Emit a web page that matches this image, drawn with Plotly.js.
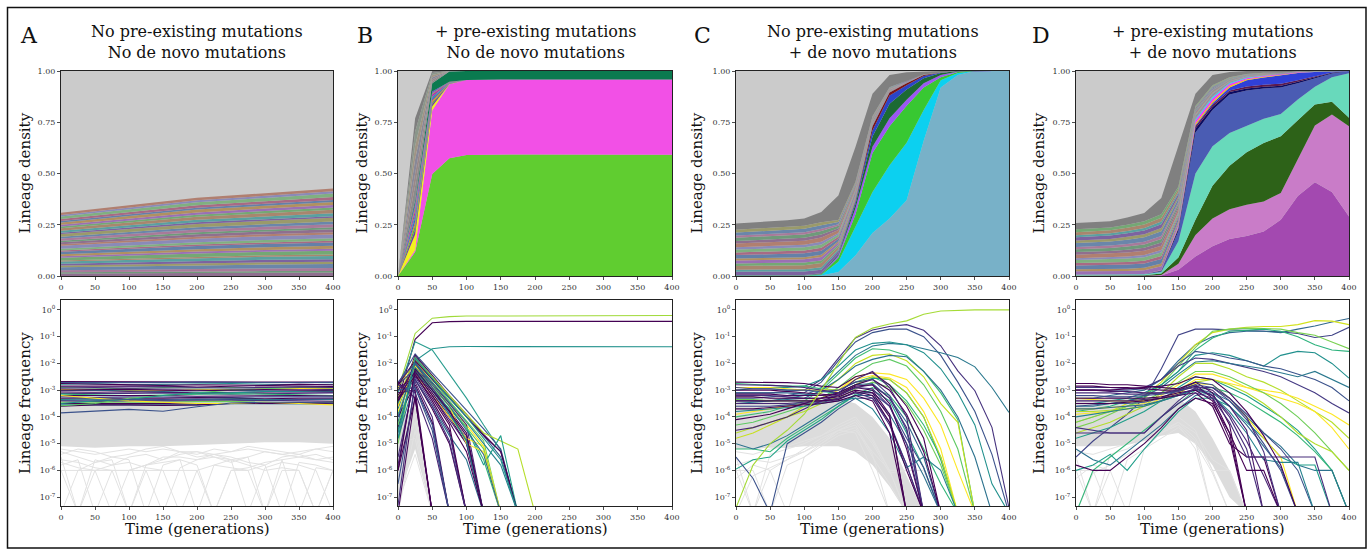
<!DOCTYPE html>
<html><head><meta charset="utf-8">
<script src="https://cdn.plot.ly/plotly-3.0.1.min.js"></script>
<style>html,body{margin:0;padding:0;background:#fff}#chart{width:1370px;height:549px}</style>
</head><body><div id="chart"></div>
<script>
// ---------------- time axes / ticks / labels ----------------
const T  = [0,25,50,75,100,125,150,175,200,225,250,275,300,325,350,375,400];
const T5 = [0,100,200,300,400];
const T9 = [0,50,100,150,200,250,300,350,400];
const TB = [0,25,50,75,100];
const TS = [0,50,100,125,150,175,200,225,250,275,300,350];
const timeTicks = [0,50,100,150,200,250,300,350,400];
const densityTicks = [0,0.25,0.5,0.75,1];
const densityTickText = ['0.00','0.25','0.50','0.75','1.00'];
const freqTicks = [1e-7,1e-6,1e-5,1e-4,1e-3,1e-2,1e-1,1];
const freqTickText = ['10<sup>-7</sup>','10<sup>-6</sup>','10<sup>-5</sup>','10<sup>-4</sup>','10<sup>-3</sup>','10<sup>-2</sup>','10<sup>-1</sup>','10<sup>0</sup>'];
const panelLetters = ['A','B','C','D'];
const panelTitles = ['No pre-existing mutations<br>No de novo mutations','+ pre-existing mutations<br>No de novo mutations','No pre-existing mutations<br>+ de novo mutations','+ pre-existing mutations<br>+ de novo mutations'];
const densityLabel = 'Lineage density';
const freqLabel = 'Lineage frequency';
const timeLabel = 'Time (generations)';

// ---------------- Panel A (top): lineage densities on T5 ----------------
const stripesA = [
[0.012,0.014,0.015,0.016,0.017],[0.006,0.007,0.007,0.008,0.008],[0.010,0.011,0.012,0.013,0.014],[0.015,0.016,0.018,0.019,0.020],
[0.008,0.009,0.010,0.011,0.011],[0.009,0.010,0.011,0.012,0.012],[0.011,0.012,0.014,0.015,0.015],[0.005,0.006,0.007,0.007,0.008],
[0.013,0.015,0.016,0.017,0.018],[0.007,0.008,0.009,0.009,0.010],[0.010,0.011,0.012,0.013,0.014],[0.012,0.013,0.015,0.016,0.016],
[0.006,0.007,0.008,0.008,0.009],[0.009,0.010,0.011,0.012,0.012],[0.014,0.016,0.017,0.018,0.019],[0.008,0.009,0.010,0.010,0.011],
[0.010,0.011,0.012,0.013,0.014],[0.007,0.008,0.009,0.009,0.010],[0.011,0.013,0.014,0.014,0.015],[0.009,0.010,0.011,0.012,0.013],
[0.013,0.014,0.016,0.017,0.018],[0.006,0.007,0.008,0.008,0.008],[0.010,0.011,0.012,0.013,0.014],[0.012,0.014,0.015,0.016,0.017],
[0.008,0.009,0.010,0.011,0.011],[0.009,0.010,0.011,0.012,0.012],[0.011,0.012,0.014,0.014,0.015],[0.007,0.008,0.009,0.009,0.010],
[0.010,0.011,0.012,0.013,0.014],[0.012,0.014,0.015,0.016,0.017],[0.008,0.009,0.010,0.010,0.011],[0.010,0.011,0.012,0.013,0.014]];

// ---------------- Panel B (top) ----------------
const greenB   = [0,0.117,0.498,0.575,0.59,0.592,0.593,0.593,0.593,0.593,0.592,0.592,0.592,0.592,0.592,0.592,0.592];
const pinkB    = [0,0.01,0.31,0.36,0.366,0.366,0.365,0.365,0.365,0.365,0.366,0.366,0.366,0.366,0.366,0.366,0.366];
const yellowB  = [0,0.075,0.02,0.002,0,0,0,0,0,0,0,0,0,0,0,0,0];
const dkGreenB = [0,0.015,0.04,0.05,0.044,0.042,0.042,0.042,0.042,0.042,0.042,0.042,0.042,0.042,0.042,0.042,0.042];
const smallB = [
[0,0.025,0.012,0.002,0],[0,0.020,0.008,0.001,0],[0,0.018,0.009,0.001,0],[0,0.020,0.010,0.002,0],
[0,0.015,0.007,0.001,0],[0,0.022,0.012,0.002,0],[0,0.015,0.006,0.001,0],[0,0.018,0.008,0.001,0]];
const greyStripesB = [
[0,0.07,0.01,0.001,0],[0,0.06,0.01,0,0],[0,0.07,0.01,0.001,0],[0,0.065,0.01,0,0],[0,0.07,0.01,0.001,0],[0,0.065,0.01,0,0]];

// ---------------- Panel C (top) ----------------
const steelC   = [0,0,0,0,0,0.002,0.02,0.10,0.21,0.28,0.37,0.66,0.92,0.98,1.0,1.0,1.0];
const cyanC    = [0.001,0.001,0.001,0.001,0.001,0.003,0.05,0.14,0.20,0.26,0.28,0.15,0.035,0.01,0,0,0];
const greenC   = [0.002,0.002,0.002,0.002,0.002,0.003,0.02,0.06,0.19,0.19,0.18,0.11,0.015,0.005,0,0,0];
const purpleC  = [0.001,0.001,0.001,0.001,0.001,0.002,0.01,0.03,0.03,0.04,0.03,0.02,0.01,0.003,0,0,0];
const dkGreenC = [0.001,0.001,0.001,0.001,0.001,0.002,0.005,0.02,0.05,0.07,0.05,0.025,0.01,0.002,0,0,0];
const blueC    = [0,0,0,0,0,0.001,0.003,0.01,0.03,0.04,0.02,0.01,0.003,0,0,0,0];
const maroonC  = [0,0,0,0,0,0,0.002,0.005,0.02,0.015,0.01,0.005,0,0,0,0,0];
const stripesC = [
[0.016,0.016,0.017,0.018,0.012,0.007,0.004,0.002,0.001,0,0,0],[0.010,0.011,0.011,0.012,0.008,0.004,0.002,0.001,0.001,0,0,0],
[0.018,0.019,0.020,0.020,0.013,0.008,0.004,0.002,0.001,0.001,0,0],[0.012,0.012,0.013,0.013,0.009,0.005,0.003,0.001,0.001,0,0,0],
[0.015,0.016,0.016,0.017,0.011,0.006,0.003,0.002,0.001,0,0,0],[0.009,0.010,0.010,0.011,0.007,0.004,0.002,0.001,0,0,0,0],
[0.017,0.018,0.019,0.019,0.012,0.007,0.004,0.002,0.001,0.001,0,0],[0.013,0.013,0.014,0.015,0.010,0.006,0.003,0.002,0.001,0,0,0],
[0.014,0.015,0.015,0.016,0.010,0.006,0.003,0.002,0.001,0,0,0],[0.011,0.012,0.012,0.013,0.008,0.005,0.002,0.001,0.001,0,0,0],
[0.019,0.019,0.020,0.021,0.014,0.008,0.004,0.002,0.001,0.001,0,0],[0.012,0.013,0.014,0.014,0.009,0.005,0.003,0.001,0.001,0,0,0],
[0.016,0.017,0.017,0.018,0.012,0.007,0.004,0.002,0.001,0,0,0],[0.010,0.010,0.011,0.011,0.007,0.004,0.002,0.001,0,0,0,0],
[0.015,0.015,0.016,0.016,0.011,0.006,0.003,0.002,0.001,0,0,0],[0.014,0.014,0.015,0.015,0.010,0.006,0.003,0.002,0.001,0,0,0]];
const greyBandC = [0.03,0.03,0.035,0.05,0.12,0.17,0.11,0.06,0.04,0.015,0.006,0];

// ---------------- Panel D (top) ----------------
const purpleD  = [0,0,0,0,0,0.002,0.03,0.095,0.145,0.18,0.195,0.217,0.274,0.39,0.457,0.41,0.29];
const orchidD  = [0.001,0.001,0.001,0.001,0.001,0.003,0.03,0.105,0.135,0.146,0.152,0.147,0.131,0.18,0.277,0.378,0.44];
const dkGreenD = [0.002,0.002,0.002,0.002,0.003,0.007,0.03,0.074,0.16,0.212,0.257,0.285,0.277,0.19,0.103,0.062,0.042];
const aquaD    = [0.003,0.003,0.003,0.003,0.004,0.008,0.08,0.226,0.193,0.16,0.13,0.118,0.108,0.101,0.086,0.12,0.217];
const blueD    = [0.001,0.001,0.001,0.001,0.002,0.005,0.05,0.20,0.177,0.187,0.171,0.148,0.13,0.079,0.042,0.018,0.011];
const navyD    = [0,0,0,0,0,0.002,0.01,0.02,0.015,0.012,0.01,0.008,0.008,0.007,0.005,0.003,0];
const maroonD  = [0,0,0,0,0,0,0.003,0.01,0.01,0.008,0.01,0.01,0.01,0.008,0.005,0.002,0];
const royalD   = [0,0,0,0,0,0,0.002,0.005,0.008,0.015,0.03,0.035,0.04,0.035,0.02,0.005,0];
const yellowD  = [0,0,0,0,0,0.001,0.005,0.01,0.01,0.008,0.005,0.004,0.003,0.002,0,0,0];
const magentaD = [0,0,0,0,0,0.001,0.005,0.012,0.012,0.008,0.005,0.004,0.003,0.002,0,0,0];
const cyanD    = [0,0,0,0,0,0,0.002,0.008,0.008,0.005,0.003,0.002,0,0,0,0,0];
const stripesD = [
[0.016,0.016,0.018,0.019,0.013,0.005,0.004,0.002,0.001,0.001,0.001,0],[0.010,0.011,0.012,0.013,0.009,0.003,0.003,0.001,0.001,0.001,0,0],
[0.018,0.019,0.021,0.022,0.015,0.005,0.005,0.002,0.001,0.001,0.001,0],[0.012,0.012,0.014,0.014,0.010,0.003,0.003,0.002,0.001,0.001,0,0],
[0.015,0.016,0.017,0.018,0.012,0.004,0.004,0.002,0.001,0.001,0.001,0],[0.009,0.010,0.011,0.012,0.008,0.003,0.002,0.001,0.001,0,0,0],
[0.017,0.018,0.020,0.021,0.014,0.005,0.004,0.002,0.002,0.001,0.001,0],[0.013,0.013,0.015,0.016,0.011,0.004,0.003,0.002,0.001,0.001,0,0],
[0.014,0.015,0.016,0.017,0.012,0.004,0.004,0.002,0.001,0.001,0.001,0],[0.011,0.012,0.013,0.014,0.010,0.003,0.003,0.001,0.001,0,0,0],
[0.019,0.019,0.022,0.023,0.016,0.005,0.005,0.002,0.001,0.001,0.001,0],[0.012,0.013,0.015,0.016,0.011,0.004,0.003,0.002,0.001,0.001,0,0],
[0.016,0.017,0.018,0.019,0.013,0.005,0.004,0.002,0.001,0.001,0.001,0],[0.010,0.010,0.012,0.013,0.009,0.003,0.003,0.002,0.001,0,0,0],
[0.015,0.015,0.017,0.018,0.013,0.004,0.004,0.002,0.001,0.001,0.001,0],[0.014,0.014,0.016,0.017,0.012,0.004,0.003,0.002,0.001,0.001,0,0]];
const greyBandD = [0.03,0.03,0.04,0.08,0.2,0.06,0.05,0.025,0.015,0.01,0.008,0.003];

// ---------------- Bottom panels: log10 lineage frequency ----------------
// Panel A (T9)
const linesA = [
[-2.68,-2.68,-2.7,-2.69,-2.68,-2.7,-2.7,-2.69,-2.7],[-2.72,-2.73,-2.72,-2.72,-2.7,-2.71,-2.72,-2.72,-2.71],
[-2.78,-2.76,-2.8,-2.78,-2.76,-2.75,-2.78,-2.8,-2.78],[-2.85,-2.85,-2.83,-2.85,-2.88,-2.85,-2.83,-2.85,-2.86],
[-2.9,-2.92,-2.95,-2.9,-2.92,-2.9,-2.9,-2.92,-2.95],[-2.95,-2.97,-2.95,-2.96,-2.95,-2.98,-2.96,-2.95,-2.97],
[-2.98,-3.0,-3.0,-3.02,-3.0,-2.98,-2.95,-2.93,-2.92],[-3.02,-3.0,-3.03,-3.05,-3.02,-3.0,-3.02,-3.03,-3.05],
[-3.07,-3.08,-3.06,-3.08,-3.1,-3.08,-3.07,-3.06,-3.08],[-3.12,-3.13,-3.12,-3.1,-3.12,-3.15,-3.13,-3.12,-3.1],
[-3.15,-3.17,-3.2,-3.18,-3.15,-3.13,-3.15,-3.18,-3.2],[-3.2,-3.2,-3.22,-3.2,-3.23,-3.22,-3.2,-3.2,-3.22],
[-3.25,-3.27,-3.25,-3.26,-3.25,-3.27,-3.25,-3.24,-3.25],[-3.3,-3.3,-3.32,-3.3,-3.28,-3.3,-3.32,-3.3,-3.3],
[-3.35,-3.33,-3.35,-3.38,-3.35,-3.33,-3.35,-3.36,-3.35],[-3.4,-3.42,-3.4,-3.4,-3.42,-3.4,-3.38,-3.4,-3.42],
[-3.45,-3.45,-3.47,-3.45,-3.43,-3.42,-3.45,-3.47,-3.45],[-3.5,-3.5,-3.48,-3.5,-3.52,-3.5,-3.48,-3.47,-3.48],
[-3.55,-3.55,-3.53,-3.55,-3.55,-3.5,-3.5,-3.5,-3.52],[-3.6,-3.55,-3.55,-3.57,-3.55,-3.5,-3.5,-3.5,-3.5],
[-3.2,-3.3,-3.4,-3.45,-3.5,-3.5,-3.45,-3.5,-3.55],[-3.58,-3.5,-3.3,-3.2,-3.1,-3.0,-2.95,-2.9,-2.9],
[-3.5,-3.4,-3.35,-3.2,-3.1,-3.1,-3.05,-3.05,-3.0],[-2.75,-2.78,-2.8,-2.82,-2.8,-2.8,-2.82,-2.78,-2.8],
[-2.88,-2.9,-2.88,-2.87,-2.9,-2.92,-2.9,-2.88,-2.9],[-3.0,-2.98,-2.97,-3.0,-3.02,-3.0,-2.98,-3.0,-3.0],
[-3.38,-3.36,-3.36,-3.35,-3.33,-3.35,-3.38,-3.35,-3.33],[-3.85,-3.79,-3.72,-3.79,-3.62,-3.48,-3.45,-3.45,-3.48]];
const greyBandALo = [-5.1,-5.15,-5.1,-5.1,-5.05,-5.0,-4.95,-4.95,-5.0];
const greyBandAHi = [-3.3,-3.3,-3.3,-3.3,-3.3,-3.3,-3.3,-3.3,-3.3];
const greyLinesA = [
[-5.5,-7.6,-5.6,-5.8,-5.5,-5.4,-5.6,-5.3,-5.5,-5.4,-5.6,-5.5,-5.3,-5.4,-5.5,-5.6,-5.7],
[-6.0,-6.0,-6.0,-7.6,-6.0,-5.8,-5.5,-5.5,-5.6,-5.4,-5.5,-5.7,-5.8,-5.5,-5.4,-5.6,-5.5],
[-5.8,-5.6,-7.6,-6.0,-6.0,-6.0,-7.6,-5.9,-5.6,-5.5,-5.6,-5.8,-6.0,-5.9,-6.0,-7.6,-6.0],
[-5.3,-5.5,-5.7,-5.6,-7.6,-5.8,-5.6,-5.4,-5.3,-5.5,-5.7,-5.5,-7.6,-5.6,-5.5,-5.4,-5.6],
[-7.6,-6.0,-5.7,-5.5,-5.6,-7.6,-5.8,-5.6,-5.8,-7.6,-6.0,-5.9,-5.7,-5.6,-7.6,-5.9,-6.0],
[-5.6,-5.7,-5.9,-6.0,-6.0,-5.8,-5.7,-5.6,-7.6,-5.8,-5.6,-7.6,-5.9,-5.7,-5.8,-6.0,-7.6],
[-5.2,-5.3,-5.4,-5.3,-5.2,-5.3,-5.2,-5.3,-5.3,-5.4,-5.3,-5.2,-5.3,-5.4,-5.3,-5.2,-5.3],
[-6.0,-7.6,-6.0,-6.0,-7.6,-6.0,-6.0,-6.0,-6.0,-7.6,-6.0,-6.0,-7.6,-6.0,-6.0,-7.6,-6.0],
[-5.4,-5.2,-5.3,-5.5,-5.4,-5.2,-5.1,-5.3,-5.4,-5.2,-5.3,-5.1,-5.2,-5.3,-5.4,-5.2,-5.1],
[-5.7,-5.9,-6.0,-5.8,-5.7,-5.9,-6.0,-7.6,-6.0,-5.8,-5.9,-6.0,-5.8,-7.6,-5.7,-5.8,-6.0]];

// Panel B (T)
const linesB = [
[-3.0,-0.88,-0.31,-0.25,-0.23,-0.23,-0.22,-0.22,-0.22,-0.22,-0.22,-0.22,-0.22,-0.22,-0.22,-0.22,-0.21],
[-3.4,-1.1,-0.48,-0.44,-0.43,-0.43,-0.43,-0.43,-0.43,-0.43,-0.43,-0.43,-0.43,-0.43,-0.43,-0.43,-0.43],
[-3.7,-1.9,-1.45,-1.38,-1.37,-1.37,-1.37,-1.37,-1.37,-1.37,-1.37,-1.37,-1.38,-1.38,-1.38,-1.38,-1.38],
[-3.1,-1.19,-1.5,-2.4,-3.3,-4.3,-5.25,-7.6],
[-2.75,-1.65,-2.35,-3.05,-3.75,-4.45,-5.2,-7.6],[-3.5,-1.7,-2.45,-3.2,-3.9,-4.65,-5.3,-7.6],
[-4.2,-1.75,-2.5,-3.25,-4.0,-4.7,-5.5,-7.6],[-3.3,-1.8,-2.5,-3.2,-3.9,-4.6,-4.9,-5.2,-7.6],
[-5.0,-1.85,-2.6,-3.4,-4.15,-4.9,-7.6],[-2.9,-1.9,-2.7,-3.5,-4.3,-5.1,-7.6],
[-3.6,-1.95,-2.75,-3.5,-4.3,-7.6],[-4.6,-2.0,-2.7,-3.45,-4.2,-5.0,-5.8,-7.6],
[-3.9,-2.05,-2.8,-3.6,-4.4,-5.6,-7.6],[-3.2,-2.1,-2.9,-3.75,-4.6,-7.6],
[-2.8,-2.2,-3.0,-3.9,-4.8,-7.6],[-4.4,-2.25,-3.1,-4.0,-5.0,-7.6],
[-3.5,-2.3,-3.0,-3.7,-4.4,-5.8,-4.7,-7.6],[-3.8,-2.4,-3.2,-4.0,-4.8,-5.1,-7.6],
[-3.0,-2.4,-3.4,-4.5,-7.6],[-5.5,-2.5,-3.5,-4.6,-7.6],[-3.3,-2.6,-3.7,-5.0,-7.6],
[-2.9,-2.7,-4.0,-7.6],[-4.0,-2.8,-4.2,-7.6],[-6.5,-2.9,-4.5,-7.6],[-3.1,-3.0,-7.6],
[-7.6,-3.2,-7.6],[-6.0,-3.3,-7.6],[-4.8,-2.6,-3.6,-4.7,-5.6,-7.6],[-4.3,-2.2,-2.9,-3.6,-4.4,-5.2,-7.6],
[-2.8,-1.9,-2.6,-3.3,-4.0,-4.7,-5.3,-7.6],[-5.8,-2.35,-3.2,-4.1,-5.0,-7.6],[-3.6,-2.1,-2.8,-3.6,-5.0,-5.3,-7.6],
[-2.7,-2.0,-2.9,-3.8,-4.9,-7.6],[-4.5,-2.15,-3.0,-3.9,-4.9,-7.6],[-3.4,-2.45,-3.3,-4.3,-7.6],
[-2.7,-3.3,-7.6],[-2.8,-3.1,-4.8,-7.6],[-3.0,-2.9,-4.3,-7.6],[-3.3,-2.3,-3.2,-4.2,-5.3,-7.6],
[-4.0,-2.0,-2.8,-3.6,-4.5,-5.4,-7.6],[-4.8,-1.8,-2.55,-3.3,-4.0,-4.8,-5.6,-7.6],[-6.0,-2.2,-3.0,-3.8,-4.7,-7.6],
[-7.3,-2.6,-3.6,-4.9,-7.6]];
const greyBandBLo = [-7.0,-5.2,-7.6];
const greyBandBHi = [-4.2,-3.5,-7.6];
const greyLinesB = [[-6.0,-4.2,-7.6],[-7.6,-4.5,-7.6],[-5.0,-4.8,-7.6],[-6.5,-3.9,-7.6],[-7.2,-5.4,-7.6]];

// Panel C (T)
const linesC = [
[-3.1,-3.1,-3.1,-3.05,-3.0,-2.6,-1.8,-1.05,-0.75,-0.62,-0.55,-0.76,-1.34,-2.28,-3.02,-4.39,-7.4],
[-3.3,-3.3,-3.25,-3.2,-3.1,-2.7,-1.9,-1.2,-0.85,-0.72,-0.72,-1.0,-1.7,-2.7,-3.8,-5.4,-7.6],
[-3.5,-3.45,-3.4,-3.3,-3.2,-2.9,-2.3,-1.7,-1.35,-1.25,-1.3,-1.45,-1.6,-1.78,-2.13,-2.9,-3.83],
[-2.9,-2.9,-2.9,-2.9,-2.85,-2.6,-2.1,-1.5,-1.25,-1.2,-1.3,-1.6,-2.2,-3.1,-4.3,-6.5,-7.6],
[-4.0,-3.9,-3.8,-3.6,-3.4,-3.0,-2.4,-1.8,-1.45,-1.5,-1.7,-2.3,-3.1,-4.1,-7.6],
[-4.8,-4.6,-4.3,-4.0,-3.6,-3.1,-2.6,-2.0,-1.7,-1.65,-1.9,-2.5,-3.5,-4.2,-7.6],
[-3.4,-3.4,-3.4,-3.35,-3.3,-3.0,-2.6,-2.1,-1.85,-1.7,-1.75,-2.3,-3.0,-4.0,-5.5,-7.6],
[-4.3,-4.2,-4.0,-3.8,-3.6,-3.3,-2.9,-2.4,-2.0,-1.85,-2.1,-2.8,-3.8,-5.2,-7.6],
[-3.9,-3.8,-3.7,-3.6,-3.5,-3.3,-3.0,-2.5,-2.35,-2.4,-2.6,-3.3,-4.3,-6.0,-7.6],
[-2.75,-2.78,-2.8,-2.85,-2.85,-2.95,-3.0,-2.7,-2.5,-2.8,-3.4,-4.3,-5.5,-7.6],
[-3.0,-2.95,-2.95,-3.0,-3.0,-3.05,-3.1,-2.8,-2.55,-2.6,-3.1,-4.0,-5.6,-7.6],
[-3.35,-3.35,-3.4,-3.4,-3.4,-3.4,-3.3,-2.95,-2.7,-2.9,-3.5,-4.5,-5.8,-7.6],
[-2.9,-2.9,-2.9,-2.95,-3.0,-3.0,-3.0,-2.6,-2.45,-2.55,-2.9,-3.8,-5.2,-7.6],
[-4.6,-4.4,-4.2,-4.0,-3.8,-3.5,-3.2,-2.8,-2.5,-2.6,-3.1,-4.0,-5.5,-7.6],
[-5.2,-5.2,-5.3,-4.8,-4.4,-4.0,-3.6,-3.15,-2.9,-3.2,-4.0,-5.2,-6.5,-7.6],
[-5.95,-5.6,-5.5,-4.9,-4.5,-4.1,-3.6,-3.2,-3.0,-3.4,-4.6,-5.9,-7.6],
[-5.5,-6.3,-7.6,-5.0,-4.6,-4.2,-3.7,-3.3,-3.3,-4.2,-5.8,-7.6],
[-5.0,-5.2,-5.0,-4.7,-4.3,-3.9,-3.5,-3.2,-3.2,-3.9,-5.0,-6.2,-7.6],
[-3.8,-3.75,-3.7,-3.65,-3.6,-3.5,-3.4,-3.3,-3.7,-4.6,-5.9,-5.5,-6.0,-7.6],
[-3.6,-3.6,-3.6,-3.55,-3.5,-3.45,-3.35,-3.1,-3.1,-3.6,-4.8,-5.9,-7.6],
[-3.1,-3.1,-3.1,-3.1,-3.15,-3.2,-3.1,-2.8,-2.75,-3.3,-4.2,-5.5,-7.6],
[-4.1,-4.0,-3.9,-3.7,-3.5,-3.3,-3.1,-2.8,-2.6,-3.0,-3.9,-5.3,-7.6],
[-4.5,-4.4,-4.2,-4.0,-3.7,-3.4,-3.2,-2.9,-2.8,-3.3,-4.4,-7.6],
[-2.7,-2.7,-2.7,-2.72,-2.75,-2.85,-2.9,-2.5,-2.35,-2.8,-3.6,-4.8,-7.6],
[-2.8,-2.8,-2.82,-2.85,-2.9,-3.0,-3.1,-2.6,-2.3,-2.9,-4.0,-7.6],
[-2.9,-2.95,-2.95,-3.0,-3.0,-3.05,-3.0,-2.7,-2.6,-3.2,-4.5,-7.6],
[-3.0,-3.0,-3.0,-3.05,-3.1,-3.15,-3.2,-2.9,-3.0,-3.9,-7.6],
[-3.2,-3.2,-3.2,-3.25,-3.3,-3.3,-3.2,-2.9,-2.95,-3.6,-5.0,-7.6],
[-3.25,-3.25,-3.3,-3.3,-3.3,-3.3,-3.25,-3.0,-3.1,-4.0,-7.6],
[-3.5,-3.5,-3.5,-3.5,-3.45,-3.4,-3.3,-3.1,-3.3,-4.3,-5.8,-7.6],
[-3.7,-3.7,-3.65,-3.6,-3.55,-3.5,-3.4,-3.2,-3.4,-4.6,-7.6],
[-3.4,-3.4,-3.4,-3.4,-3.4,-3.4,-3.35,-3.05,-3.2,-4.2,-6.0,-7.6],
[-3.15,-3.15,-3.15,-3.2,-3.2,-3.2,-3.15,-2.85,-2.8,-3.5,-5.2,-7.6],
[-7.4,-5.8,-5.0,-4.5,-3.9,-3.0,-2.0,-1.03,-0.68,-0.53,-0.41,-0.16,-0.04,-0.01,0,0,0]];
const greyBandCLo = [-5.2,-5.2,-5.15,-5.15,-5.1,-5.1,-5.1,-5.3,-5.8,-6.6,-7.6,-7.6];
const greyBandCHi = [-3.2,-3.2,-3.2,-3.2,-3.25,-3.3,-3.3,-3.5,-4.0,-4.8,-6.2,-7.6];
const greyLinesC = [
[-5.5,-7.6,-5.4,-5.2,-5.0,-4.7,-4.3,-4.0,-4.8,-6.0,-7.6],[-6.0,-6.0,-7.6,-5.8,-5.5,-5.0,-4.5,-4.3,-5.4,-7.6],
[-7.6,-6.2,-5.9,-5.6,-5.3,-4.9,-4.5,-4.2,-5.0,-6.1,-6.0,-7.6],[-6.3,-5.8,-6.0,-7.6,-5.5,-5.1,-4.7,-4.5,-5.3,-6.0,-7.6],
[-5.3,-5.4,-5.2,-5.1,-4.9,-4.7,-4.4,-4.1,-4.9,-6.0,-6.0,-6.0,-7.6],[-6.0,-7.6,-6.0,-5.6,-5.2,-4.8,-4.5,-4.6,-6.0,-7.6],
[-5.8,-5.6,-5.7,-5.5,-5.3,-5.0,-4.6,-4.4,-5.5,-6.5,-7.6]];

// Panel D (T)
const linesD = [
[-5.5,-4.9,-4.4,-3.9,-3.3,-2.2,-0.94,-0.72,-0.72,-0.75,-0.78,-0.8,-0.82,-0.88,-1.03,-0.95,-0.65],
[-3.3,-3.3,-3.2,-3.1,-3.0,-2.6,-1.9,-1.3,-1.0,-0.85,-0.8,-0.8,-0.85,-0.72,-0.6,-0.45,-0.32],
[-4.2,-4.0,-3.8,-3.5,-3.2,-2.7,-2.0,-1.3,-0.85,-0.72,-0.65,-0.62,-0.62,-0.55,-0.4,-0.42,-0.55],
[-4.4,-4.2,-3.9,-3.6,-3.3,-2.8,-2.1,-1.4,-0.8,-0.72,-0.68,-0.7,-0.72,-0.85,-0.95,-1.2,-1.45],
[-3.8,-3.7,-3.6,-3.4,-3.2,-2.8,-2.3,-1.5,-1.05,-0.8,-0.75,-0.72,-0.8,-1.0,-1.3,-1.5,-1.55],
[-3.5,-3.5,-3.4,-3.3,-3.1,-2.8,-2.3,-1.7,-1.6,-1.7,-1.9,-2.1,-1.7,-1.55,-1.6,-2.0,-2.55],
[-3.0,-3.0,-3.0,-3.0,-2.95,-2.6,-2.0,-1.55,-1.65,-1.8,-1.9,-2.1,-2.2,-2.4,-2.6,-2.9,-3.4],
[-2.9,-2.9,-2.9,-2.95,-2.9,-2.6,-2.1,-1.8,-1.85,-2.0,-2.15,-2.3,-2.5,-2.8,-3.1,-3.5,-3.85],
[-3.6,-3.6,-3.5,-3.4,-3.25,-2.9,-2.4,-1.95,-1.9,-2.0,-2.1,-2.2,-2.35,-2.5,-2.3,-2.6,-2.9],
[-4.6,-4.4,-4.2,-3.9,-3.6,-3.1,-2.5,-2.0,-2.0,-2.2,-2.5,-2.7,-3.0,-3.4,-3.8,-4.2,-4.8],
[-3.7,-3.7,-3.65,-3.6,-3.5,-3.2,-2.8,-2.4,-2.4,-2.6,-2.9,-3.1,-3.3,-3.5,-3.8,-4.4,-5.2],
[-3.9,-3.85,-3.8,-3.7,-3.6,-3.3,-3.0,-2.6,-2.6,-2.75,-2.9,-3.0,-3.1,-3.3,-3.6,-3.9,-4.3],
[-4.2,-4.0,-3.8,-3.6,-3.4,-3.1,-2.7,-2.3,-2.3,-2.5,-2.8,-3.1,-3.5,-4.0,-4.6,-5.3,-6.0],
[-4.8,-4.6,-4.4,-4.1,-3.8,-3.4,-2.9,-2.5,-2.6,-2.9,-3.2,-3.6,-4.0,-4.5,-5.2,-6.0,-7.6],
[-3.8,-3.8,-3.75,-3.7,-3.6,-3.4,-3.15,-2.7,-2.6,-2.8,-3.1,-3.5,-4.0,-4.6,-5.0,-5.3,-6.0],
[-7.6,-6.0,-5.5,-5.0,-4.5,-4.0,-3.5,-3.0,-2.9,-3.1,-3.4,-3.8,-4.2,-4.7,-5.3,-6.0,-7.6],
[-5.2,-5.6,-5.8,-5.3,-4.8,-4.3,-3.7,-3.2,-3.1,-3.4,-4.0,-4.6,-5.1,-5.8,-6.0,-6.0,-7.6],
[-6.0,-5.8,-5.4,-6.0,-5.2,-4.5,-3.8,-3.3,-3.3,-3.6,-4.2,-4.8,-5.5,-5.8,-5.8,-7.6],
[-3.3,-3.35,-3.4,-3.4,-3.4,-3.3,-3.1,-2.75,-2.8,-3.3,-4.0,-4.8,-5.5,-7.6],
[-3.6,-3.55,-3.5,-3.5,-3.45,-3.3,-3.0,-2.7,-2.8,-3.3,-3.9,-4.6,-5.2,-6.0,-7.6],
[-3.7,-3.7,-3.65,-3.6,-3.55,-3.4,-3.2,-2.95,-3.1,-3.6,-4.3,-5.1,-5.9,-7.6],
[-4.0,-3.9,-3.8,-3.7,-3.6,-3.4,-3.2,-3.0,-3.2,-3.8,-4.6,-5.6,-5.7,-5.7,-7.6],
[-2.75,-2.75,-2.8,-2.8,-2.85,-2.9,-2.95,-2.7,-3.1,-4.3,-7.6],
[-2.85,-2.85,-2.9,-2.9,-2.95,-3.0,-3.0,-2.8,-3.3,-4.6,-7.6],
[-3.0,-3.0,-3.05,-3.05,-3.1,-3.1,-3.05,-2.85,-3.0,-3.6,-4.5,-7.6],
[-3.1,-3.1,-3.1,-3.15,-3.15,-3.1,-3.0,-2.9,-3.2,-4.0,-5.2,-7.6],
[-3.2,-3.2,-3.25,-3.25,-3.2,-3.15,-3.05,-2.8,-2.9,-3.4,-4.1,-5.0,-6.0,-7.6],
[-3.3,-3.3,-3.3,-3.3,-3.3,-3.25,-3.1,-3.0,-3.4,-4.8,-7.6],
[-3.4,-3.4,-3.4,-3.4,-3.35,-3.3,-3.15,-2.95,-3.2,-3.9,-4.9,-6.2,-7.6],
[-3.5,-3.5,-3.5,-3.45,-3.4,-3.3,-3.2,-3.1,-3.6,-5.0,-5.5,-5.5,-7.6],
[-5.8,-6.0,-6.0,-5.5,-5.0,-4.4,-3.7,-3.3,-3.5,-4.6,-6.0,-6.0,-7.6],
[-4.6,-4.6,-4.6,-4.6,-4.6,-4.0,-3.5,-3.1,-3.3,-4.2,-5.5,-5.5,-5.5,-5.5,-5.5,-7.6],
[-4.4,-4.5,-4.6,-4.6,-4.6,-4.0,-3.4,-2.9,-2.9,-3.3,-4.0,-5.3,-7.6],
[-3.0,-3.0,-3.0,-2.95,-2.9,-2.85,-2.75,-2.5,-2.6,-3.1,-3.8,-4.7,-5.8,-7.6]];
const greyBandDLo = [-5.1,-5.1,-5.1,-5.05,-4.9,-4.7,-4.6,-5.0,-5.8,-7.0,-7.6];
const greyBandDHi = [-3.2,-3.2,-3.2,-3.2,-3.25,-3.3,-3.3,-3.8,-4.8,-6.0,-7.6];
const greyLinesD = [
[-5.5,-7.6,-5.4,-5.2,-4.8,-4.4,-4.0,-4.5,-6.0,-7.6],[-6.0,-6.0,-7.6,-5.6,-5.2,-4.6,-4.3,-4.9,-7.6],
[-7.6,-6.1,-5.8,-5.4,-5.0,-4.6,-4.2,-4.8,-6.0,-6.0,-7.6],[-6.3,-5.8,-6.0,-7.6,-5.2,-4.8,-4.4,-5.0,-6.1,-7.6],
[-5.3,-5.4,-5.2,-5.0,-4.7,-4.5,-4.2,-4.6,-5.6,-6.0,-7.6],[-6.0,-7.6,-6.0,-5.5,-5.0,-4.6,-4.3,-5.2,-7.6]];

// ---------------- styles (colours kept apart from data) ----------------
const FONT = 'DejaVu Serif';
const stripePalette = ['#8f6f8f','#6f9a7a','#a87a9a','#6a86aa','#9a9a6a','#7c63a0','#5aa0a0','#a8866e','#74a874','#9a70b4','#b09060','#6480a8','#a86a84','#80b080','#8a8ab8','#b07f70'];
const smallBColors = ['#7a3a9a','#44c044','#e07a30','#3d5cc8','#2aa0a0','#b030b0','#98a030','#6a50d0'];
const greyStripeBColors = ['#8a8a8a','#9a8888','#888898','#a09484','#8a968a','#7e7e7e'];
const viridisA = ['#440154','#3b528b','#21918c','#440154','#5ec962','#482475','#fde725','#26828e','#440154','#46327e','#35b779','#440154','#3e4989','#440154','#1f9e89','#482878','#6ece58','#440154','#2a788e','#440154','#fde725','#5ec962','#21918c','#440154','#472d7b','#440154','#3e4989','#3b528b'];
const viridisB = ['#a0da39','#440154','#21918c','#2a9d8f','#3b528b','#440154','#31688e','#b5de2b','#6ece58','#fde725','#482475','#26828e','#35b779','#440154','#3e4989','#440154','#1f9e89','#fde725','#440154','#472d7b','#440154','#482878','#440154','#3b528b','#440154','#46085c','#440154','#2c728e','#5ec962','#440154','#482475','#fde725','#414487','#21918c','#440154','#440154','#482475','#3b528b','#440154','#31688e','#21918c','#440154','#46327e'];
const viridisC = ['#46327e','#3b528b','#2a788e','#21908d','#3dbc74','#c8e020','#2c728e','#5ec962','#fde725','#35b779','#1f9e89','#6ece58','#fde725','#b5de2b','#35b779','#20a386','#3b528b','#2c728e','#26828e','#3e4a89','#31688e','#440154','#482475','#440154','#482475','#414487','#440154','#472d7b','#440154','#482878','#440154','#440154','#46085c','#a5db36'];
const viridisD = ['#414487','#31688e','#d2e21b','#7ad151','#2db27d','#21908d','#3b528b','#443983','#2a788e','#b5de2b','#fde725','#fde725','#6ece58','#1f9e89','#b5de2b','#35b779','#2c728e','#1f9e89','#fde725','#3b528b','#31688e','#26828e','#440154','#440154','#481a6c','#472c7a','#3e4989','#440154','#482475','#440154','#440154','#472d7b','#46327e','#440154'];

// ---------------- build traces ----------------
const traces = [];
function addArea(ax, group, x, y, color, first) {
  const t = {type:'scatter', mode:'lines', x:x, y:y, xaxis:'x'+ax, yaxis:'y'+ax, stackgroup:group,
    line:{width:0, color:color}, fillcolor:color, hoverinfo:'skip', showlegend:false};
  if (first) t.stackgaps = 'interpolate';
  traces.push(t);
}
function addLine(ax, x, exps, color, width) {
  traces.push({type:'scatter', mode:'lines', x:x.slice(0, exps.length), y:exps.map(v => Math.pow(10, v)),
    xaxis:'x'+ax, yaxis:'y'+ax, line:{color:color, width:width}, hoverinfo:'skip', showlegend:false});
}
function addBand(ax, x, lo, hi, color) {
  const xs = x.slice(0, lo.length);
  traces.push({type:'scatter', mode:'lines', x:xs, y:lo.map(v => Math.pow(10, v)), xaxis:'x'+ax, yaxis:'y'+ax,
    line:{width:0, color:color}, hoverinfo:'skip', showlegend:false});
  traces.push({type:'scatter', mode:'lines', x:xs, y:hi.map(v => Math.pow(10, v)), xaxis:'x'+ax, yaxis:'y'+ax,
    line:{width:0, color:color}, fill:'tonexty', fillcolor:color, hoverinfo:'skip', showlegend:false});
}
const GREY_BAND = '#808080';
// A top
stripesA.forEach((r, i) => addArea('', 'sA', T5, r, stripePalette[i % stripePalette.length], i === 0));
// B top
addArea('2', 'sB', T, greenB, '#60cd30', true);
addArea('2', 'sB', T, pinkB, '#f250e6');
addArea('2', 'sB', T, yellowB, '#f2f21c');
smallB.forEach((r, i) => addArea('2', 'sB', TB, r, smallBColors[i]));
addArea('2', 'sB', T, dkGreenB, '#0a7a4f');
greyStripesB.forEach((r, i) => addArea('2', 'sB', TB, r, greyStripeBColors[i]));
// C top
[[steelC,'#78b1c8'],[cyanC,'#0cd0f0'],[greenC,'#38c832'],[purpleC,'#9b57f3'],[dkGreenC,'#1c6a33'],[blueC,'#2b44c8'],[maroonC,'#7a1418']]
  .forEach((p, i) => addArea('3', 'sC', T, p[0], p[1], i === 0));
stripesC.forEach((r, i) => addArea('3', 'sC', TS, r, stripePalette[(i + 5) % stripePalette.length]));
addArea('3', 'sC', TS, greyBandC, GREY_BAND);
// D top
[[purpleD,'#a349b0'],[orchidD,'#c97cc8'],[dkGreenD,'#2d6218'],[aquaD,'#68d9bb'],[blueD,'#4a5cb3'],[navyD,'#0b0b62'],[maroonD,'#5c1a4e'],[royalD,'#3040d8'],[yellowD,'#f2c218'],[magentaD,'#ff2aff'],[cyanD,'#30d6f6']]
  .forEach((p, i) => addArea('4', 'sD', T, p[0], p[1], i === 0));
stripesD.forEach((r, i) => addArea('4', 'sD', TS, r, stripePalette[(i + 9) % stripePalette.length]));
addArea('4', 'sD', TS, greyBandD, GREY_BAND);

// bottom
const LG = '#dcdcdc', LGL = '#e2e2e2', LW = 1.1;
addBand('5', T9, greyBandALo, greyBandAHi, LG);
greyLinesA.forEach(r => addLine('5', T, r, LGL, 1));
linesA.forEach((r, i) => addLine('5', T9, r, viridisA[i], LW));

addBand('6', T, greyBandBLo, greyBandBHi, LG);
greyLinesB.forEach(r => addLine('6', T, r, LGL, 1));
linesB.forEach((r, i) => addLine('6', T, r, viridisB[i % viridisB.length], LW));

addBand('7', T, greyBandCLo, greyBandCHi, LG);
greyLinesC.forEach(r => addLine('7', T, r, LGL, 1));
linesC.forEach((r, i) => addLine('7', T, r, viridisC[i % viridisC.length], LW));

addBand('8', T, greyBandDLo, greyBandDHi, LG);
greyLinesD.forEach(r => addLine('8', T, r, LGL, 1));
linesD.forEach((r, i) => addLine('8', T, r, viridisD[i % viridisD.length], LW));

// ---------------- layout ----------------
const W = 1370, H = 549;
const colPx = [[61,333],[398,672],[736,1009],[1076,1349]];
const topPx = [71,276], botPx = [300,506];
const xd = p => [p[0]/W, p[1]/W];
const yd = p => [1 - p[1]/H, 1 - p[0]/H];
const tickFont = {family:FONT, size:8, color:'#333'};
function xAxis(i, anchor) {
  return {domain:xd(colPx[i]), anchor:anchor, range:[0,400], tickmode:'array', tickvals:timeTicks,
    ticks:'outside', ticklen:3, tickwidth:0.8, tickcolor:'#222', showline:true, mirror:true, linecolor:'#222',
    linewidth:1, showgrid:false, zeroline:false, tickfont:tickFont, fixedrange:true};
}
function yTop(anchor) {
  return {domain:yd(topPx), anchor:anchor, range:[0,1], tickmode:'array', tickvals:densityTicks, ticktext:densityTickText,
    ticks:'outside', ticklen:3, tickwidth:0.8, tickcolor:'#222', showline:true, mirror:true, linecolor:'#222',
    linewidth:1, showgrid:false, zeroline:false, tickfont:tickFont, fixedrange:true};
}
function yBot(anchor) {
  return {domain:yd(botPx), anchor:anchor, type:'log', range:[-7.33,0.37], tickmode:'array', tickvals:freqTicks, ticktext:freqTickText,
    ticks:'outside', ticklen:3, tickwidth:0.8, tickcolor:'#222', showline:true, mirror:true, linecolor:'#222',
    linewidth:1, showgrid:false, zeroline:false, tickfont:tickFont, fixedrange:true};
}
const layout = {width:W, height:H, margin:{l:0,r:0,t:0,b:0}, paper_bgcolor:'#fff', plot_bgcolor:'rgba(0,0,0,0)',
  showlegend:false, font:{family:FONT, color:'#111'}, annotations:[], shapes:[]};
layout.xaxis = xAxis(0,'y');  layout.yaxis = yTop('x');
layout.xaxis2 = xAxis(1,'y2'); layout.yaxis2 = yTop('x2');
layout.xaxis3 = xAxis(2,'y3'); layout.yaxis3 = yTop('x3');
layout.xaxis4 = xAxis(3,'y4'); layout.yaxis4 = yTop('x4');
layout.xaxis5 = xAxis(0,'y5'); layout.yaxis5 = yBot('x5');
layout.xaxis6 = xAxis(1,'y6'); layout.yaxis6 = yBot('x6');
layout.xaxis7 = xAxis(2,'y7'); layout.yaxis7 = yBot('x7');
layout.xaxis8 = xAxis(3,'y8'); layout.yaxis8 = yBot('x8');

// grey background of the density panels
['', '2', '3', '4'].forEach(s => layout.shapes.push({type:'rect', xref:'x'+s+' domain', yref:'y'+s+' domain',
  x0:0, x1:1, y0:0, y1:1, fillcolor:'#cbcbcb', line:{width:0}, layer:'below'}));
// outer frame
layout.shapes.push({type:'rect', xref:'paper', yref:'paper', x0:7.5/W, x1:1366/W, y0:1-548/H, y1:1-7.5/H,
  line:{color:'#111', width:1.5}, fillcolor:'rgba(0,0,0,0)'});

const letterX = [29, 365, 702, 1041];
const ylabX = [25, 362, 697, 1039];
for (let i = 0; i < 4; i++) {
  const cx = (colPx[i][0] + colPx[i][1]) / 2 / W;
  layout.annotations.push({xref:'paper', yref:'paper', x:cx, y:1-41.5/H, xanchor:'center', yanchor:'middle',
    text:panelTitles[i], showarrow:false, font:{family:FONT, size:16, color:'#111'}});
  layout.annotations.push({xref:'paper', yref:'paper', x:letterX[i]/W, y:1-36/H, xanchor:'center', yanchor:'middle',
    text:panelLetters[i], showarrow:false, font:{family:FONT, size:22, color:'#111'}});
  layout.annotations.push({xref:'paper', yref:'paper', x:ylabX[i]/W, y:1-(topPx[0]+topPx[1])/2/H, xanchor:'center', yanchor:'middle',
    text:densityLabel, textangle:-90, showarrow:false, font:{family:FONT, size:15, color:'#111'}});
  layout.annotations.push({xref:'paper', yref:'paper', x:ylabX[i]/W, y:1-(botPx[0]+botPx[1])/2/H, xanchor:'center', yanchor:'middle',
    text:freqLabel, textangle:-90, showarrow:false, font:{family:FONT, size:15, color:'#111'}});
  layout.annotations.push({xref:'paper', yref:'paper', x:cx, y:1-528.5/H, xanchor:'center', yanchor:'middle',
    text:timeLabel, showarrow:false, font:{family:FONT, size:15, color:'#111'}});
}

Plotly.newPlot('chart', traces, layout, {staticPlot:true, displayModeBar:false});
</script>
</body></html>
